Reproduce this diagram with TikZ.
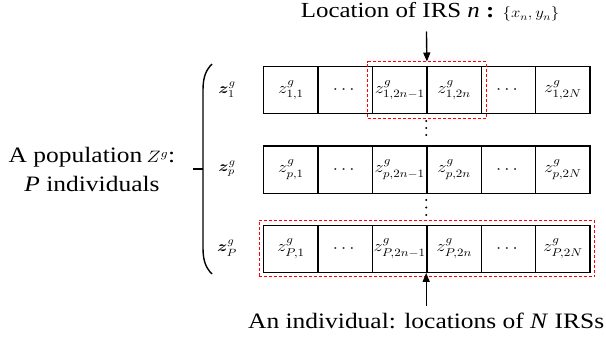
\RequirePackage{fix-cm}
\documentclass[tikz,border=0pt]{standalone}
\usepackage{amsmath,bm}
\usepackage[no-math]{fontspec}
\setmainfont{Liberation Serif}
\usepackage{graphicx}
\usetikzlibrary{arrows.meta,fit}
\newcommand{\sx}[1]{\scalebox{1.157}[1]{#1}}
\newcommand{\cellrow}[3]{%
  \node[cellbox] (r#1c1) at (263,#3) {\sx{$z^g_{#2,1}$}};
  \node[cellbox] (r#1c2) at (317.4,#3) {\sx{$\cdots$}};
  \node[cellbox] (r#1c3) at (371.8,#3) {\sx{$z^g_{#2,2n-1}$}};
  \node[cellbox] (r#1c4) at (426.2,#3) {\sx{$z^g_{#2,2n}$}};
  \node[cellbox] (r#1c5) at (480.6,#3) {\sx{$\cdots$}};
  \node[cellbox] (r#1c6) at (535.0,#3) {\sx{$z^g_{#2,2N}$}};
  \node[rowlab] (lab#1) at (227,#3+23.5) {\sx{$\bm{z}^g_{#2}$}};
}
\begin{document}
\begin{tikzpicture}[x=1pt,y=-1pt,
  cellbox/.style={draw, line width=1.4pt, minimum width=54.4pt, minimum height=47pt,
    inner sep=0pt, anchor=north west, font=\fontsize{16}{19}\selectfont},
  rowlab/.style={inner sep=0pt, font=\fontsize{15}{18}\selectfont},
  reddash/.style={draw=red, line width=1pt, dash pattern=on 3pt off 2pt, inner sep=4pt},
  arr/.style={line width=1.4pt, -{Triangle[length=9pt,width=7pt]}},
  bigtext/.style={inner sep=0pt, anchor=base, font=\fontsize{22}{26}\selectfont}]
\useasboundingbox (0,0) rectangle (606,337);
\cellrow{1}{1}{66}
\cellrow{2}{p}{145.5}
\cellrow{3}{P}{224.5}
\node[reddash, fit=(r1c3)(r1c4)] (box1) {};
\node[reddash, fit=(r3c1)(r3c6)] (box2) {};
% vertical dots
\foreach \yy in {121,128,135,200,207.5,215} \fill (426.2,\yy) circle (1.2pt);
% title
\node[inner sep=0pt, anchor=base west, font=\fontsize{21.5}{25}\selectfont] (title) at (300.7,18)
  {\sx{Location of IRS \textit{n} \textbf{:} {\fontsize{14.5}{17}\selectfont$\{x_n,y_n\}$}}};
\coordinate (ta) at (426.45,31.5);
\draw[arr] (ta) -- (box1.north);
% bottom
\node[bigtext] (bottom) at (426.2,328) {\sx{An individual: locations of \textit{N} IRSs}};
\coordinate (ba) at (426.2,306);
\draw[arr] (ba) -- (r3c4.south west);
% left text
\node[bigtext] (pop1) at (92,163) {\sx{A population\,{\fontsize{16.5}{18}\selectfont$Z^g$}:}};
\node[bigtext] (pop2) at (92,191) {\sx{\textit{P} individuals}};
% brace
\draw[line width=1.4pt] (212,64) .. controls (206,70) and (203,77) .. (203,90)
  -- (203,248) .. controls (203,261) and (206,268) .. (212,274);
\coordinate (tick) at (193,169);
\draw[line width=1.4pt] (tick) -- (203,169);
\end{tikzpicture}
\end{document}
